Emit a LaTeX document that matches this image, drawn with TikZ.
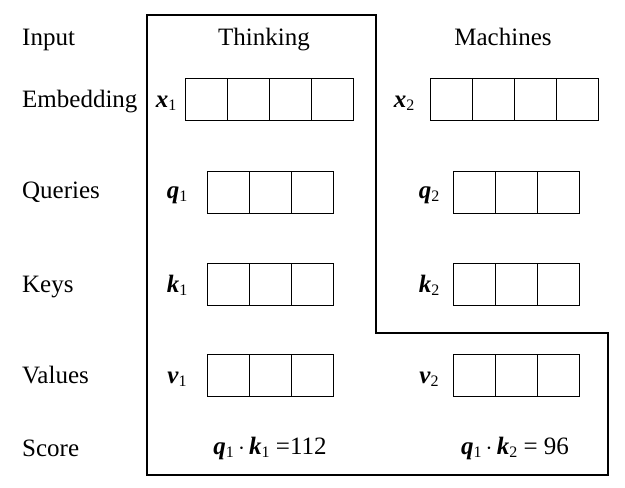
\documentclass[tikz,border=0pt]{standalone}
\usepackage{fontspec}
\setmainfont{Liberation Serif}
\usetikzlibrary{positioning}
\newcommand{\bv}[2]{\textbf{\textit{#1}}\raisebox{-0.3ex}{\fontsize{16}{16}\selectfont #2}}
\tikzset{
  cell/.style={draw, line width=1pt, minimum width=42pt, minimum height=42pt, inner sep=0pt},
  rowlabel/.style={anchor=base west, inner sep=0pt},
  veclabel/.style={anchor=base, inner sep=0pt},
}

\begin{document}
\begin{tikzpicture}[x=1pt,y=-1pt,font=\fontsize{25}{30}\selectfont]
  \useasboundingbox (0,0) rectangle (625,488);

  \draw[line width=1.3pt] (147,15) -- (376,15) -- (376,333) -- (608,333)
    -- (608,475) -- (147,475) -- cycle;

  \node[rowlabel] (input) at (22,45) {Input};
  \node[rowlabel] (embedding) at (22,107) {Embedding};
  \node[rowlabel] (queries) at (22,198) {Queries};
  \node[rowlabel] (keys) at (22,292) {Keys};
  \node[rowlabel] (values) at (22,383) {Values};
  \node[rowlabel] (score) at (22,456) {Score};

  \node[veclabel] (thinking) at (264,45) {Thinking};
  \node[veclabel] (machines) at (503,45) {Machines};

  \node[veclabel] (x1) at (166,107) {\bv{x}{1}};
  \node[veclabel] (x2) at (404,107) {\bv{x}{2}};
  \node[veclabel] (q1) at (177,198) {\bv{q}{1}};
  \node[veclabel] (q2) at (429,198) {\bv{q}{2}};
  \node[veclabel] (k1) at (177,292) {\bv{k}{1}};
  \node[veclabel] (k2) at (429,292) {\bv{k}{2}};
  \node[veclabel] (v1) at (177,383) {\bv{v}{1}};
  \node[veclabel] (v2) at (429,383) {\bv{v}{2}};

  \foreach \i in {1,...,4} {
    \node[cell] (emb1-\i) at ({185+(\i-0.5)*42},99) {};
    \node[cell] (emb2-\i) at ({430+(\i-0.5)*42},99) {};
  }
  \foreach \row/\y in {qry/192, key/284, val/375} {
    \foreach \i in {1,...,3} {
      \node[cell] (\row1-\i) at ({207+(\i-0.5)*42},\y) {};
      \node[cell] (\row2-\i) at ({453+(\i-0.5)*42},\y) {};
    }
  }

  \node[veclabel] (score1) at (270,454) {\bv{q}{1}\,$\cdot$\,\bv{k}{1} =112};
  \node[veclabel] (score2) at (515,454) {\bv{q}{1}\,$\cdot$\,\bv{k}{2} = 96};
\end{tikzpicture}
\end{document}
